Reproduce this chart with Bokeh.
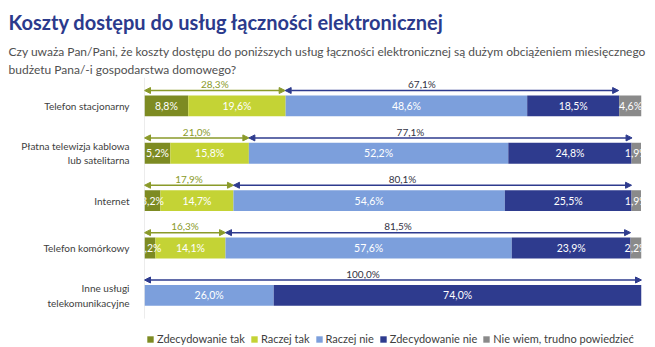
from bokeh.plotting import figure
from bokeh.models import (ColumnDataSource, Range1d, Arrow, NormalHead, Legend,
                          LegendItem, Title, FixedTicker)
from bokeh.core.properties import value
from bokeh.embed import file_html
from bokeh.resources import INLINE

categories = ["Telefon stacjonarny", "Płatna telewizja kablowa\nlub satelitarna",
              "Internet", "Telefon komórkowy", "Inne usługi\ntelekomunikacyjne"]
zdecydowanie_tak = [8.8, 5.2, 3.2, 2.2, 0.0]
raczej_tak = [19.6, 15.8, 14.7, 14.1, 0.0]
raczej_nie = [48.6, 52.2, 54.6, 57.6, 26.0]
zdecydowanie_nie = [18.5, 24.8, 25.5, 23.9, 74.0]
nie_wiem = [4.6, 1.9, 1.9, 2.2, 0.0]
tak_total = [28.3, 21.0, 17.9, 16.3, 0.0]
nie_total = [67.1, 77.1, 80.1, 81.5, 100.0]
series_names = ["Zdecydowanie tak", "Raczej tak", "Raczej nie", "Zdecydowanie nie",
                "Nie wiem, trudno powiedzieć"]
colors = ["#7d8b22", "#c4d335", "#7c9fdc", "#2e3b8e", "#8a8a8a"]

FONT = "Lato"
pos = list(range(len(categories)))
series = [zdecydowanie_tak, raczej_tak, raczej_nie, zdecydowanie_nie, nie_wiem]
keys = ["s0", "s1", "s2", "s3", "s4"]

data = {"y": pos}
for k, s in zip(keys, series):
    data[k] = s
src = ColumnDataSource(data)

Y_TOP, Y_AXIS_END, Y_BOTTOM = -0.6, 4.49, 5.10

p = figure(width=655, height=347, x_range=Range1d(0, 100), y_range=Range1d(Y_BOTTOM, Y_TOP),
           output_backend="svg", toolbar_location=None,
           min_border_left=144, min_border_right=14, min_border_top=0, min_border_bottom=0)
p.outline_line_color = None
p.grid.visible = False
p.background_fill_color = "white"

# axis line (ends above legend)
p.segment(x0=[0], y0=[Y_TOP], x1=[0], y1=[Y_AXIS_END], line_color="#d9d9d9", line_width=1)

renderers = p.hbar_stack(keys, y="y", height=0.44, color=colors, source=src, line_color=None)

# segment labels
lx, ly, lt = [], [], []
for i in pos:
    cum = 0.0
    for s in series:
        v = s[i]
        if v > 0:
            lx.append(cum + v / 2)
            ly.append(i)
            lt.append(f"{v:.1f}%".replace(".", ","))
        cum += v
p.text(x=lx, y=ly, text=lt, text_color="white", text_font=value(FONT),
       text_font_size="10.5px", text_align="center", text_baseline="middle")

# tak arrows
TAK_C = "#8a9a2a"
NIE_C = "#2e3b8e"
ti = [i for i in pos if tak_total[i] > 0]
tak_src = ColumnDataSource(dict(xs=[0.0] * len(ti), xe=[tak_total[i] for i in ti],
                                y=[i - 0.325 for i in ti]))
p.add_layout(Arrow(source=tak_src, x_start="xs", y_start="y", x_end="xe", y_end="y",
                   line_color=TAK_C, line_width=1.5,
                   start=NormalHead(size=6, fill_color=TAK_C, line_color=TAK_C),
                   end=NormalHead(size=6, fill_color=TAK_C, line_color=TAK_C)))
p.text(x=[tak_total[i] / 2 for i in ti], y=[i - 0.46 for i in ti],
       text=[f"{tak_total[i]:.1f}%".replace(".", ",") for i in ti],
       text_color=TAK_C, text_font=value(FONT), text_font_size="10px",
       text_align="center", text_baseline="middle")

# nie arrows
nie_src = ColumnDataSource(dict(xs=[tak_total[i] for i in pos],
                                xe=[tak_total[i] + nie_total[i] for i in pos],
                                y=[i - 0.325 for i in pos]))
p.add_layout(Arrow(source=nie_src, x_start="xs", y_start="y", x_end="xe", y_end="y",
                   line_color=NIE_C, line_width=1.5,
                   start=NormalHead(size=6, fill_color=NIE_C, line_color=NIE_C),
                   end=NormalHead(size=6, fill_color=NIE_C, line_color=NIE_C)))
p.text(x=[tak_total[i] + nie_total[i] / 2 for i in pos], y=[i - 0.46 for i in pos],
       text=[f"{nie_total[i]:.1f}%".replace(".", ",") for i in pos],
       text_color="#333344", text_font=value(FONT), text_font_size="10px",
       text_align="center", text_baseline="middle", x_offset=-30)

# axes
p.xaxis.visible = False
p.yaxis.ticker = FixedTicker(ticks=pos)
p.yaxis.major_label_overrides = {i: c for i, c in zip(pos, categories)}
p.yaxis.axis_line_color = None
p.yaxis.major_tick_line_color = None
p.yaxis.minor_tick_line_color = None
p.yaxis.major_label_text_font = FONT
p.yaxis.major_label_text_font_size = "10px"
p.yaxis.major_label_text_color = "#404040"
p.yaxis.major_label_standoff = 9

# legend
legend = Legend(items=[LegendItem(label=n, renderers=[r]) for n, r in zip(series_names, renderers)],
                orientation="horizontal", location=(2, 2), label_text_font=FONT,
                label_text_font_size="11px", label_text_color="#404040",
                glyph_width=8, glyph_height=8, label_standoff=3, spacing=5,
                padding=0, margin=0, border_line_color=None, background_fill_alpha=0)
p.add_layout(legend)

# titles
p.add_layout(Title(text="Czy uważa Pan/Pani, że koszty dostępu do poniższych usług łączności elektronicznej są dużym obciążeniem miesięcznego\nbudżetu Pana/-i gospodarstwa domowego?",
                   text_font=FONT, text_font_size="12px", text_font_style="normal",
                   text_line_height=1.2,
                   text_color="#505050", align="left", offset=-136, standoff=1), "above")
p.add_layout(Title(text="Koszty dostępu do usług łączności elektronicznej",
                   text_font=FONT, text_font_size="20px", text_font_style="bold",
                   text_color="#2b3a8c", align="left", offset=-136, standoff=15), "above")

open("out.html", "w").write(file_html(p, INLINE))
